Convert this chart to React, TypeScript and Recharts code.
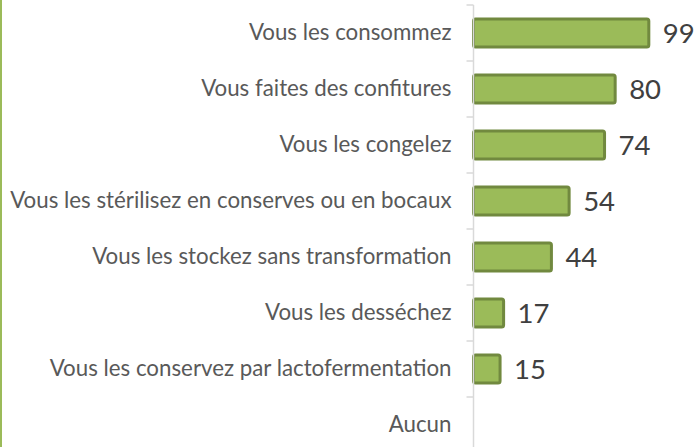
import React from 'react';
import { BarChart, Bar, XAxis, YAxis, LabelList } from 'recharts';

const categories = [
  'Vous les consommez',
  'Vous faites des confitures',
  'Vous les congelez',
  'Vous les stérilisez en conserves ou en bocaux',
  'Vous les stockez sans transformation',
  'Vous les desséchez',
  'Vous les conservez par lactofermentation',
  'Aucun',
];
const values: (number | null)[] = [99, 80, 74, 54, 44, 17, 15, null];

const data = categories.map((c, i) => ({ name: c, value: values[i] }));

const CHART_H = 453;
const TOP = 5;
const BAND = (CHART_H - TOP) / categories.length;
const MARGIN = 22;

const renderTick = (props: any) => {
  const { x, y, payload } = props;
  const axisX = Number(x) + MARGIN;
  const yy = Number(y);
  return (
    <g key={payload.value}>
      <path d={`M${axisX - 7},${yy - BAND / 2}H${axisX}`} stroke="#d9d9d9" strokeWidth={1.5} fill="none" />
      <text x={x} y={yy} dy={7} textAnchor="end" fill="#595959" fontSize={22.3} fontFamily="Lato, 'Open Sans', sans-serif">
        {payload.value}
      </text>
    </g>
  );
};

export default function App() {
  return (
    <div style={{ position: 'absolute', left: 0, top: 0, width: 698, height: 447, overflow: 'hidden', background: '#fff' }}>
      <div style={{ position: 'absolute', left: 0, top: 0, width: 2, height: 447, background: '#9bbb59' }} />
      <BarChart
        width={698}
        height={CHART_H}
        data={data}
        layout="vertical"
        margin={{ top: TOP, right: 12, bottom: 0, left: 0 }}
        barCategoryGap={0}
      >
        <XAxis type="number" domain={[0, 120]} hide />
        <YAxis
          type="category"
          dataKey="name"
          width={473.5}
          tickLine={false}
          tickSize={0}
          tickMargin={MARGIN}
          axisLine={{ stroke: '#d9d9d9', strokeWidth: 1.5 }}
          tick={renderTick}
          interval={0}
        />
        <Bar
          dataKey="value"
          barSize={28}
          fill="#9bbb59"
          stroke="#71893f"
          strokeWidth={3}
          radius={2}
          isAnimationActive={false}
        >
          <LabelList
            dataKey="value"
            position="right"
            offset={14}
            fill="#404040"
            fontSize={27.5}
            fontFamily="Lato, 'Open Sans', sans-serif"
          />
        </Bar>
      </BarChart>
    </div>
  );
}
